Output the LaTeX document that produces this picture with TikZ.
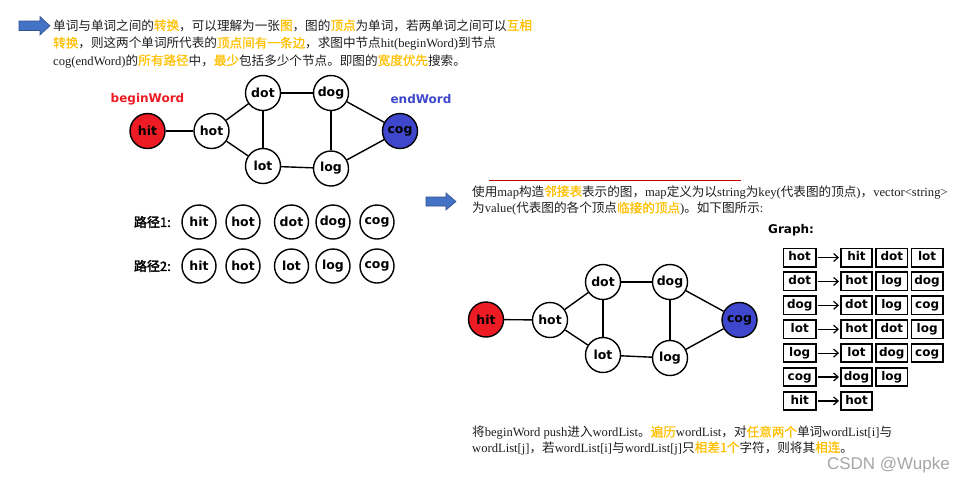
\documentclass[tikz,border=0pt]{standalone}
\usepackage{fontspec}
\setmainfont{Liberation Serif}
\newfontfamily\cjk{Noto Sans CJK SC}
\newfontfamily\cjkb[FakeBold=2.2]{Noto Sans CJK SC}
\newfontfamily\cjkh[FakeBold=0.8]{Noto Sans CJK SC}
\newfontfamily\lbsans{DejaVu Sans}
\newfontfamily\arialf{Liberation Sans}
\usetikzlibrary{arrows.meta}
\definecolor{hlc}{HTML}{FFC000}
\definecolor{txtc}{HTML}{1E1E1E}
\definecolor{redn}{HTML}{ED1C24}
\definecolor{bluen}{HTML}{3F48CC}
\definecolor{arrfill}{HTML}{4472C4}
\definecolor{arrline}{HTML}{2F528F}
\definecolor{wmc}{HTML}{A6A6A6}
\newcommand\lt[1]{{\rmfamily #1}}
\newcommand\hl[1]{{\cjkh\color{hlc}#1}}
\tikzset{
 txt/.style={anchor=base west, inner sep=0pt, font=\cjk\fontsize{12.6}{14}\selectfont, text=txtc},
 vtx/.style={circle, draw, line width=1.4pt, minimum size=35pt, inner sep=0pt, fill=white,
   font=\lbsans\bfseries\fontsize{12.5}{14}\selectfont},
 link/.style={line width=1.4pt},
 cell/.style={draw, line width=1.7pt, minimum width=31.3pt, minimum height=18.3pt, inner sep=0pt,
   text height=9pt, text depth=2.5pt, font=\lbsans\bfseries\fontsize{12}{14}\selectfont},
 keycell/.style={cell, minimum width=32.3pt},
 maparrow/.style={-{Straight Barb[length=4.5pt,width=8pt]}, line width=1.2pt, shorten >=1pt, shorten <=1.5pt},
 blockarrow/.style={fill=arrfill, draw=arrline, line width=0.6pt},
 lbl/.style={font=\lbsans\bfseries\fontsize{12}{14}\selectfont, inner sep=0pt},
 pathlbl/.style={font=\cjkb\fontsize{13}{14}\selectfont, anchor=east, inner sep=0pt},
}
\begin{document}
\begin{tikzpicture}[x=1pt,y=-1pt]
\useasboundingbox[fill=white] (0,0) rectangle (965,485);

% ---- top explanation ----
\draw[blockarrow] (19,21) -- (40,21) -- (40,16.5) -- (50,25.8) -- (40,35) -- (40,30.5) -- (19,30.5) -- cycle;
\node[txt] (t1) at (53,30) {单词与单词之间的\hl{转换}，可以理解为一张\hl{图}，图的\hl{顶点}为单词，若两单词之间可以\hl{互相}};
\node[txt] (t2) at (53,47.5) {\hl{转换}，则这两个单词所代表的\hl{顶点间有一条边}，求图中节点\lt{hit(beginWord)}到节点};
\node[txt] (t3) at (53,65) {\lt{cog(endWord)}的\hl{所有路径}中，\hl{最少}包括多少个节点。即图的\hl{宽度优先}搜索。};

% ---- top graph ----
\node[lbl, text=redn] (abegin) at (147.5,99) {beginWord};
\node[lbl, text=bluen] (aend) at (421,99) {endWord};
\node[vtx, fill=redn] (ahit) at (147.5,131) {hit};
\node[vtx] (ahot) at (211.5,131) {hot};
\node[vtx] (adot) at (263,93) {dot};
\node[vtx] (adog) at (331,93) {dog};
\node[vtx] (alot) at (263,166) {lot};
\node[vtx] (alog) at (331,168.5) {log};
\node[vtx, fill=bluen] (acog) at (400,131) {cog};
\draw[link] (ahit) -- (ahot);
\draw[link] (ahot) -- (adot);
\draw[link] (ahot) -- (alot);
\draw[link] (adot) -- (alot);
\draw[link] (adot) -- (adog);
\draw[link] (alot) -- (alog);
\draw[link] (adog) -- (alog);
\draw[link] (adog) -- (acog);
\draw[link] (alog) -- (acog);

% ---- paths ----
\node[pathlbl] (pl1) at (171,222) {路径1:};
\node[pathlbl] (pl2) at (171,266) {路径2:};
\foreach \w/\x [count=\i] in {hit/199,hot/243,dot/291.5,dog/333,cog/377}
  \node[vtx, minimum size=34pt] (pa\i) at (\x,222) {\w};
\foreach \w/\x [count=\i] in {hit/199,hot/243,lot/291.5,log/333,cog/377}
  \node[vtx, minimum size=34pt] (pb\i) at (\x,266) {\w};

% ---- middle explanation ----
\draw[red!75!black, line width=0.8pt] (489,180) -- (741,180);
\draw[blockarrow] (426,197) -- (446,197) -- (446,193) -- (456,201.5) -- (446,210) -- (446,206) -- (426,206) -- cycle;
\node[txt] (m1) at (472,196) {使用\lt{map}构造\hl{邻接表}表示的图，\lt{map}定义为以\lt{string}为\lt{key(}代表图的顶点\lt{)}，\lt{vector<string>}};
\node[txt] (m2) at (472,212.5) {为\lt{value(}代表图的各个顶点\hl{临接的顶点}\lt{)}。如下图所示\lt{:}};

% ---- second graph ----
\node[vtx, fill=redn] (bhit) at (486,319.5) {hit};
\node[vtx] (bhot) at (550,320) {hot};
\node[vtx] (bdot) at (603,282) {dot};
\node[vtx] (bdog) at (670,282) {dog};
\node[vtx] (blot) at (603,355) {lot};
\node[vtx] (blog) at (670,358) {log};
\node[vtx, fill=bluen] (bcog) at (739.5,320) {cog};
\draw[link] (bhit) -- (bhot);
\draw[link] (bhot) -- (bdot);
\draw[link] (bhot) -- (blot);
\draw[link] (bdot) -- (blot);
\draw[link] (bdot) -- (bdog);
\draw[link] (blot) -- (blog);
\draw[link] (bdog) -- (blog);
\draw[link] (bdog) -- (bcog);
\draw[link] (blog) -- (bcog);

% ---- adjacency table ----
\node[lbl, anchor=west] (glabel) at (768,230) {Graph:};
\foreach \k/\vals [count=\i] in {hot/{hit,dot,lot},dot/{hot,log,dog},dog/{dot,log,cog},lot/{hot,dot,log},log/{lot,dog,cog},cog/{dog,log},hit/{hot}} {
  \node[keycell] (k\i) at (799.7,{257.5+23.9*(\i-1)}) {\k};
  \foreach \v [count=\j] in \vals
    \node[cell] (v\i-\j) at ({856.5+35.3*(\j-1)},{257.5+23.9*(\i-1)}) {\v};
  \draw[maparrow] (k\i) -- (v\i-1);
}

% ---- bottom explanation ----
\node[txt] (b1) at (472,436.5) {将\lt{beginWord push}进入\lt{wordList}。\hl{遍历}\lt{wordList}，对\hl{任意两个}单词\lt{wordList[i]}与};
\node[txt] (b2) at (472,452) {\lt{wordList[j]}，若\lt{wordList[i]}与\lt{wordList[j]}只\hl{相差1个}字符，则将其\hl{相连}。};

\node[anchor=east, inner sep=0pt, font=\arialf\fontsize{17}{18}\selectfont, text=wmc] (wm) at (950,465) {CSDN @Wupke};
\end{tikzpicture}
\end{document}
